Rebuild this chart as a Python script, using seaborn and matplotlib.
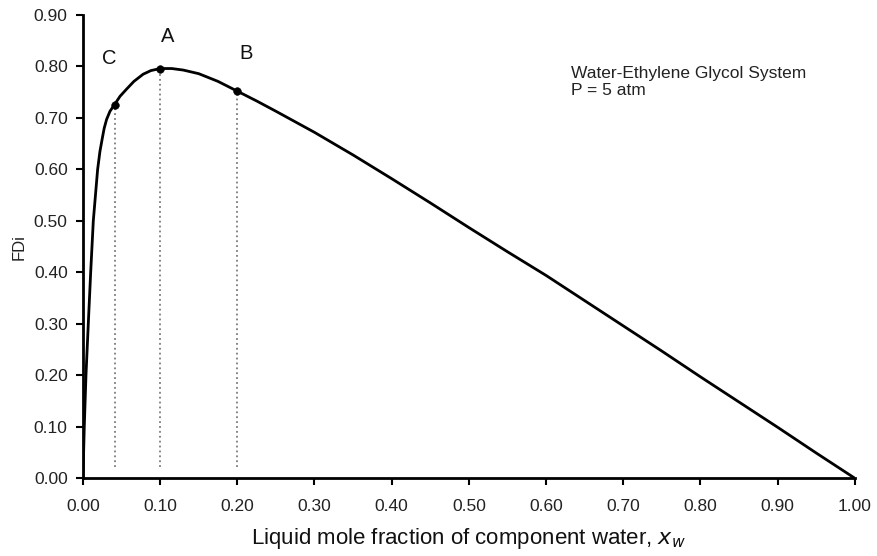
import matplotlib
matplotlib.use("Agg")
import matplotlib.pyplot as plt
import seaborn as sns
import pandas as pd

# FDi curve (water mole fraction vs FDi)
x_water = [0.0, 0.0017, 0.0039, 0.0069, 0.010, 0.0134, 0.019, 0.022, 0.025,
           0.0275, 0.0306, 0.035, 0.0405, 0.048, 0.0565, 0.066, 0.078, 0.088,
           0.100, 0.115, 0.130, 0.150, 0.175, 0.200, 0.225, 0.250, 0.300,
           0.350, 0.400, 0.450, 0.500, 0.550, 0.600, 0.650, 0.700, 0.750,
           0.800, 0.850, 0.900, 0.950, 1.000]
fdi = [0.0, 0.10, 0.20, 0.30, 0.40, 0.50, 0.60, 0.635, 0.66,
       0.68, 0.697, 0.713, 0.725, 0.742, 0.756, 0.771, 0.785, 0.792,
       0.796, 0.796, 0.793, 0.786, 0.771, 0.752, 0.733, 0.713, 0.672,
       0.628, 0.582, 0.535, 0.487, 0.440, 0.394, 0.345, 0.296, 0.247,
       0.197, 0.148, 0.099, 0.049, 0.0]

# marked points
point_names = ["C", "A", "B"]
point_x = [0.041, 0.100, 0.200]
point_y = [0.725, 0.796, 0.752]

x_ticks = [0.0, 0.1, 0.2, 0.3, 0.4, 0.5, 0.6, 0.7, 0.8, 0.9, 1.0]
y_ticks = [0.0, 0.1, 0.2, 0.3, 0.4, 0.5, 0.6, 0.7, 0.8, 0.9]

sns.set_style("ticks")
plt.rcParams['font.family'] = ['Liberation Sans', 'DejaVu Sans']

df = pd.DataFrame({'x': x_water, 'FDi': fdi})

fig = plt.figure(figsize=(8.77, 5.56), dpi=100)
ax = fig.add_axes([0.0946, 0.140, 0.880, 0.833])

sns.lineplot(data=df, x='x', y='FDi', sort=False, estimator=None,
             color='black', linewidth=2, ax=ax)

# dotted drop lines and dots
ax.vlines(point_x, 0.022, point_y, colors='#666666', linestyles=(0, (1.2, 2)),
          linewidth=1.1)
sns.scatterplot(x=point_x, y=point_y, color='black', s=30, edgecolor='black',
                zorder=5, ax=ax)

label_offsets = {"C": (-0.007, 0.09), "A": (0.01, 0.063), "B": (0.011, 0.074)}
for name, px, py in zip(point_names, point_x, point_y):
    dx, dy = label_offsets[name]
    ax.text(px + dx, py + dy, name, ha='center', va='center', fontsize=14.5,
            color='#111111')

ax.text(0.633, 0.800, "Water-Ethylene Glycol System\nP = 5 atm",
        ha='left', va='top', fontsize=12.5, linespacing=1.12, color='#222222')

ax.set_xlim(0, 1.0)
ax.set_ylim(0, 0.9)
ax.set_xticks(x_ticks)
ax.set_yticks(y_ticks)
ax.set_xticklabels([f"{v:.2f}" for v in x_ticks], fontsize=12.5)
ax.set_yticklabels([f"{v:.2f}" for v in y_ticks], fontsize=12.5)
ax.tick_params(direction='out', length=5, width=1.5, colors='black',
               labelcolor='#222222')
ax.tick_params(axis='x', pad=10)
ax.tick_params(axis='y', pad=6)
ax.set_xlabel(r"Liquid mole fraction of component water, $x_w$",
              fontsize=16, labelpad=9, color='#111111')
ax.set_ylabel("FDi", fontsize=12, labelpad=5, color='#222222')

sns.despine(ax=ax)
for side in ['left', 'bottom']:
    ax.spines[side].set_linewidth(2)
    ax.spines[side].set_color('black')

fig.savefig('out.png', dpi=100)
